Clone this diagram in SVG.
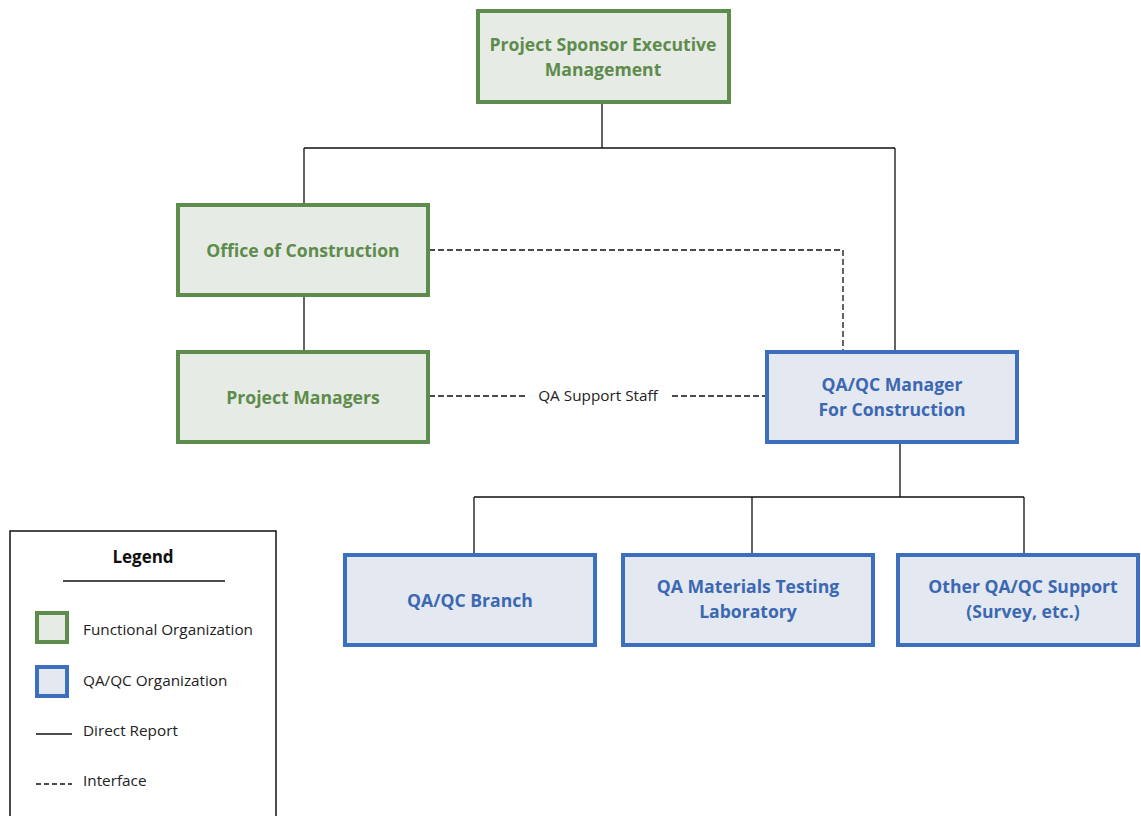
<svg xmlns="http://www.w3.org/2000/svg" width="1141" height="816" viewBox="0 0 1141 816">
<style>
.g rect{fill:#e7ebe5;stroke:#5e8c4c;stroke-width:4}
.b rect{fill:#e4e8f1;stroke:#3c70bf;stroke-width:4}
.g text{fill:#5e8c4c}
.b text{fill:#3c68b2}
.n text{font-family:"Open Sans",Lato,sans-serif;font-weight:700;font-size:17.6px;text-anchor:middle}
.c path{fill:none;stroke:#111;stroke-width:1.3}
.c .d{stroke-dasharray:6 3}
.t{font-family:"Open Sans",Lato,sans-serif;font-size:15.3px;fill:#222}
</style>
<rect width="1141" height="816" fill="#fff"/>
<g id="connectors" class="c">
<path d="M602 103V148M304 148H895M304 148V204M895 148V351M304 296V351"/>
<path class="d" d="M429 250H843V351"/>
<path class="d" d="M429 396H528M672 396H766"/>
<path d="M900 443V497M474 497H1024M474 497V554M752 497V554M1024 497V554"/>
<text class="t" x="598" y="401" text-anchor="middle">QA Support Staff</text>
</g>
<g id="sponsor" class="n g"><rect x="478" y="11" width="251" height="91"/><text x="603" y="51">Project Sponsor Executive</text><text x="603" y="76">Management</text></g>
<g id="office" class="n g"><rect x="178" y="205" width="250" height="90"/><text x="303" y="257">Office of Construction</text></g>
<g id="pm" class="n g"><rect x="178" y="352" width="250" height="90"/><text x="303" y="404">Project Managers</text></g>
<g id="qaqcmgr" class="n b"><rect x="767" y="352" width="250" height="90"/><text x="892" y="391">QA/QC Manager</text><text x="892" y="416">For Construction</text></g>
<g id="branch" class="n b"><rect x="345" y="555" width="250" height="90"/><text x="470" y="607">QA/QC Branch</text></g>
<g id="lab" class="n b"><rect x="623" y="555" width="250" height="90"/><text x="748" y="593">QA Materials Testing</text><text x="748" y="618">Laboratory</text></g>
<g id="other" class="n b"><rect x="898" y="555" width="240" height="90"/><text x="1023" y="593">Other QA/QC Support</text><text x="1023" y="618">(Survey, etc.)</text></g>
<g id="legend">
<rect x="10" y="531" width="266" height="290" fill="#fff" stroke="#111" stroke-width="1.5"/>
<text x="143" y="563" text-anchor="middle" font-family="Open Sans,Lato,sans-serif" font-weight="700" font-size="17" fill="#111">Legend</text>
<path d="M63 581H225" stroke="#111" stroke-width="1.3"/>
<rect x="37" y="613" width="30" height="29" fill="#e7ebe5" stroke="#5e8c4c" stroke-width="4"/>
<text class="t" x="83" y="635">Functional Organization</text>
<rect x="37" y="667" width="30" height="29" fill="#e4e8f1" stroke="#3c70bf" stroke-width="4"/>
<text class="t" x="83" y="686">QA/QC Organization</text>
<path d="M36 734H72" stroke="#111" stroke-width="1.3"/>
<text class="t" x="83" y="736">Direct Report</text>
<path d="M36 784H72" stroke="#111" stroke-width="1.3" stroke-dasharray="5 3"/>
<text class="t" x="83" y="786">Interface</text>
</g>
</svg>
